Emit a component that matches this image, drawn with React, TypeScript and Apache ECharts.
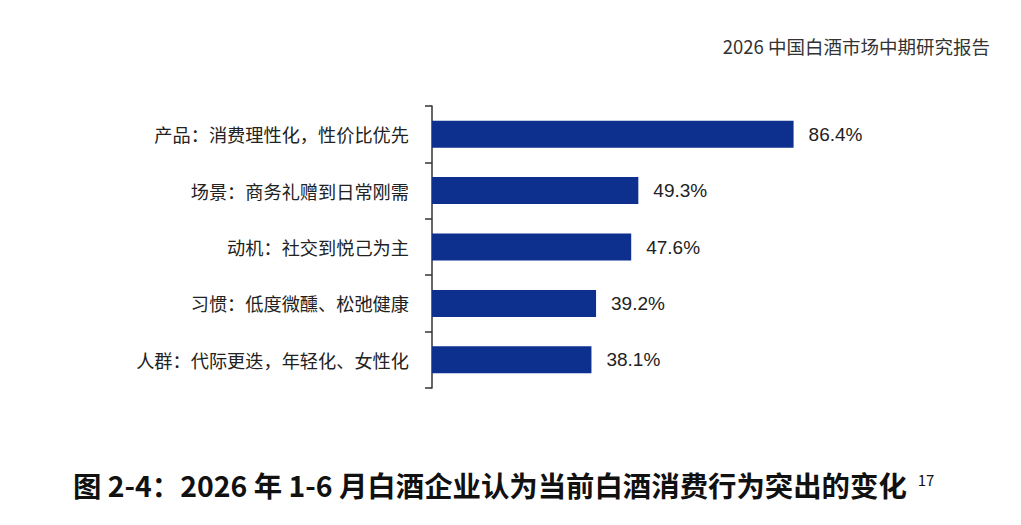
import { useEffect, useRef } from "react";
import * as echarts from "echarts";

const NAVY = "#0d2f8e";
const TEXT = "#222222";

const categories = [
    "产品：消费理性化，性价比优先",
    "场景：商务礼赠到日常刚需",
    "动机：社交到悦己为主",
    "习惯：低度微醺、松弛健康",
    "人群：代际更迭，年轻化、女性化",
];
const values = [86.4, 49.3, 47.6, 39.2, 38.1];

const header = "2026 中国白酒市场中期研究报告";
const caption = "图 2-4：2026 年 1-6 月白酒企业认为当前白酒消费行为突出的变化";
const footnote = "17";

export default function App() {
    const ref = useRef<HTMLDivElement>(null);

    useEffect(() => {
        if (!ref.current) return;
        const chart = echarts.init(ref.current, undefined, { renderer: "svg" });
        chart.setOption({
            backgroundColor: "#ffffff",
            animation: false,
            grid: { left: 432, top: 106, width: 418.5, height: 282 },
            xAxis: { type: "value", min: 0, max: 100, show: false },
            yAxis: {
                type: "category",
                inverse: true,
                data: categories,
                axisLine: { show: true, lineStyle: { color: "#333333", width: 1.5 } },
                axisTick: { show: true, length: 7, lineStyle: { color: "#333333", width: 1.5 } },
                axisLabel: {
                    margin: 23,
                    fontSize: 18.2,
                    color: TEXT,
                    fontFamily: "Noto Sans CJK SC",
                },
            },
            series: [
                {
                    type: "bar",
                    data: values,
                    barWidth: 27,
                    itemStyle: { color: NAVY },
                    label: {
                        show: true,
                        position: "right",
                        distance: 15,
                        formatter: "{c}%",
                        fontSize: 19,
                        color: TEXT,
                        fontFamily: "Liberation Sans",
                    },
                },
            ],
            graphic: [
                {
                    type: "text",
                    right: 31,
                    top: 37,
                    style: {
                        text: header,
                        fontSize: 18.5,
                        fill: "#333333",
                        fontFamily: "Noto Sans CJK SC",
                    },
                },
                {
                    type: "text",
                    left: 73,
                    top: 470,
                    style: {
                        text: `{t|${caption}}{s|${footnote}}`,
                        rich: {
                            t: {
                                fontSize: 28.4,
                                fontWeight: "bold",
                                fill: "#111111",
                                fontFamily: "Noto Sans CJK SC",
                            },
                            s: {
                                fontSize: 15,
                                fill: "#111111",
                                fontFamily: "Noto Sans CJK SC",
                                verticalAlign: "top",
                                padding: [2, 0, 0, 11],
                            },
                        },
                    },
                },
            ],
        });
        return () => chart.dispose();
    }, []);

    return (
        <div
            ref={ref}
            style={{ position: "fixed", left: 0, top: 0, width: 1021, height: 525 }}
        />
    );
}
